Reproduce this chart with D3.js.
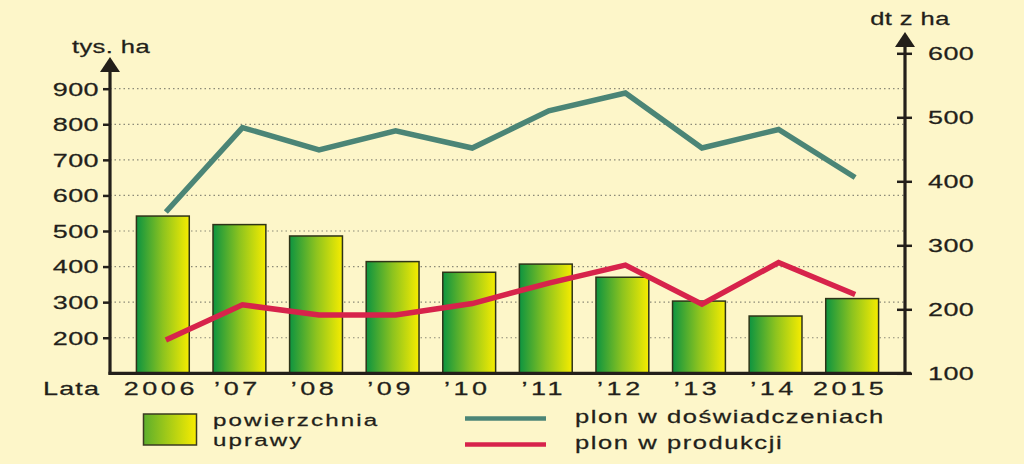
<!DOCTYPE html>
<html>
<head>
<meta charset="utf-8">
<script src="https://cdn.jsdelivr.net/npm/d3@7"></script>
<style>
  html, body { margin: 0; padding: 0; background: #fdf6c9; }
  svg { display: block; }
  text { font-family: "Liberation Sans", Arial, Helvetica, sans-serif; fill: #231f1a; stroke: #231f1a; stroke-width: 0.25px; }
</style>
</head>
<body>
<svg id="chart" width="1024" height="464"></svg>
<script>
// ---- data ----
const years = ["2006", "’07", "’08", "’09", "’10", "’11", "’12", "’13", "’14", "2015"];
const area = [542, 518, 486, 414, 384, 407, 370, 303, 261, 310];          // tys. ha (left axis)
const yieldTrials = [352, 484, 449, 479, 452, 510, 538, 452, 481, 406];   // dt z ha (right axis)
const yieldProduction = [152, 207, 191, 191, 209, 241, 269, 208, 273, 223]; // dt z ha (right axis)
const leftTicks = [200, 300, 400, 500, 600, 700, 800, 900];
const rightTicks = [100, 200, 300, 400, 500, 600];
const leftTitle = "tys. ha";
const rightTitle = "dt z ha";
const xTitle = "Lata";
const legendArea = ["powierzchnia", "uprawy"];
const legendTrials = "plon w doświadczeniach";
const legendProduction = "plon w produkcji";

// ---- layout ----
const W = 1024, H = 464;
const axL = 110, axR = 905, base = 373.3;
const svg = d3.select("#chart");
const ink = "#231f1a";
const teal = "#4b8576", red = "#d7234b";
const SX = 1.42;

const x = d3.scaleBand().domain(years).range([axL, axR]).paddingInner(0.31).paddingOuter(0.345);
const yL = d3.scaleLinear().domain([100, 900]).range([base, 88.7]);
const yR = d3.scaleLinear().domain([100, 600]).range([base, 53.3]);

// gradient
const defs = svg.append("defs");
const g1 = defs.append("linearGradient").attr("id", "barGrad").attr("x1", 0).attr("x2", 1).attr("y1", 0).attr("y2", 0);
g1.append("stop").attr("offset", "0%").attr("stop-color", "#0d9440");
g1.append("stop").attr("offset", "50%").attr("stop-color", "#8cc31f");
g1.append("stop").attr("offset", "100%").attr("stop-color", "#f6ec00");
const g2 = defs.append("linearGradient").attr("id", "legGrad").attr("x1", 0).attr("x2", 1).attr("y1", 0).attr("y2", 0);
g2.append("stop").attr("offset", "0%").attr("stop-color", "#5cae2c");
g2.append("stop").attr("offset", "100%").attr("stop-color", "#f8ec00");

// helper for stretched text
function label(parent, px, py, str, anchor, size, ls) {
  const g = parent.append("g").attr("transform", `translate(${px},${py}) scale(${SX},1)`);
  return g.append("text").attr("text-anchor", anchor).attr("font-size", size)
    .attr("letter-spacing", ls).text(str);
}

// gridlines
svg.append("g").selectAll("line").data(leftTicks).join("line")
  .attr("x1", axL).attr("x2", axR)
  .attr("y1", d => yL(d)).attr("y2", d => yL(d))
  .attr("stroke", "#8c8a78").attr("stroke-width", 1.2).attr("stroke-dasharray", "1.5,3");

// bars
svg.append("g").selectAll("rect").data(area).join("rect")
  .attr("x", (d, i) => x(years[i]))
  .attr("y", d => yL(d))
  .attr("width", x.bandwidth())
  .attr("height", d => base - yL(d))
  .attr("fill", "url(#barGrad)")
  .attr("stroke", "#2e3318").attr("stroke-width", 1.5);

// lines
const lineR = d3.line().x((d, i) => x(years[i]) + x.bandwidth() / 2 + 3).y(d => yR(d));
svg.append("path").datum(yieldTrials).attr("d", lineR)
  .attr("fill", "none").attr("stroke", teal).attr("stroke-width", 5.5).attr("stroke-linejoin", "miter");
svg.append("path").datum(yieldProduction).attr("d", lineR)
  .attr("fill", "none").attr("stroke", red).attr("stroke-width", 5.5).attr("stroke-linejoin", "miter");

// left axis
const leftAxis = svg.append("g").attr("transform", `translate(${axL},0)`)
  .call(d3.axisLeft(yL).tickValues(leftTicks).tickSize(7).tickFormat(""));
leftAxis.select(".domain").remove();
leftAxis.selectAll(".tick line").attr("stroke", ink).attr("stroke-width", 2.5);
leftTicks.forEach(t => {
  label(svg, axL - 11, yL(t), String(t), "end", 19, 0.3).attr("dy", "0.36em");
});
svg.append("line").attr("x1", axL).attr("x2", axL).attr("y1", base + 1.5).attr("y2", 70)
  .attr("stroke", ink).attr("stroke-width", 3.2);
svg.append("path").attr("d", d3.line()([[axL - 10, 72], [axL, 57], [axL + 10, 72]]) + "Z").attr("fill", ink);
label(svg, axL + 1, 53, leftTitle, "middle", 18, 0.3);

// right axis
const rightAxis = svg.append("g").attr("transform", `translate(${axR},0)`)
  .call(d3.axisRight(yR).tickValues(rightTicks).tickSize(7).tickFormat(""));
rightAxis.select(".domain").remove();
rightAxis.selectAll(".tick line").attr("x1", -8).attr("stroke", ink).attr("stroke-width", 2.5);
rightTicks.forEach(t => {
  label(svg, axR + 23, yR(t), String(t), "start", 19, 0.3).attr("dy", "0.36em");
});
svg.append("line").attr("x1", axR).attr("x2", axR).attr("y1", base + 1.5).attr("y2", 45)
  .attr("stroke", ink).attr("stroke-width", 3.2);
svg.append("path").attr("d", d3.line()([[axR - 10, 47], [axR, 32], [axR + 10, 47]]) + "Z").attr("fill", ink);
label(svg, axR + 5, 25, rightTitle, "middle", 18, 0.3);

// bottom axis
svg.append("line").attr("x1", axL - 1.5).attr("x2", axR + 6).attr("y1", base).attr("y2", base)
  .attr("stroke", ink).attr("stroke-width", 3.2);
years.forEach(yv => {
  label(svg, x(yv) + x.bandwidth() / 2 - 2, 395, yv, "middle", 19, 2.5);
});
label(svg, 43, 395, xTitle, "start", 19, 0.8);

// legend
svg.append("rect").attr("x", 143.5).attr("y", 414).attr("width", 53).attr("height", 31)
  .attr("fill", "url(#legGrad)").attr("stroke", "#3a3a20").attr("stroke-width", 1.5);
label(svg, 213, 425.5, legendArea[0], "start", 17, 1.5);
label(svg, 213, 445.5, legendArea[1], "start", 17, 1.5);
svg.append("line").attr("x1", 465).attr("x2", 546).attr("y1", 418.5).attr("y2", 418.5)
  .attr("stroke", teal).attr("stroke-width", 4.5);
svg.append("line").attr("x1", 465).attr("x2", 546).attr("y1", 444.5).attr("y2", 444.5)
  .attr("stroke", red).attr("stroke-width", 4.5);
label(svg, 575, 423, legendTrials, "start", 18, 1.1);
label(svg, 575, 449, legendProduction, "start", 18, 1.1);
</script>
</body>
</html>
